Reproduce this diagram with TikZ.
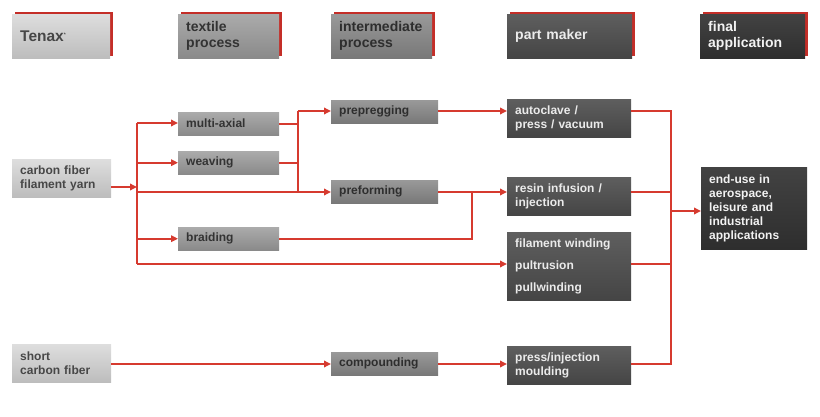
\documentclass[tikz,border=0pt]{standalone}
\usepackage{fontspec}
\setmainfont{Liberation Sans}
\usetikzlibrary{arrows.meta,positioning,shadows}

\definecolor{tnxred}{HTML}{D63A2F}
\definecolor{hdrred}{HTML}{C42E28}

\begin{document}
\begin{tikzpicture}[
    x=1pt, y=-1pt,
    box/.style={anchor=north west, inner xsep=8pt, inner ysep=0pt, align=left,
        font=\bfseries\fontsize{12}{14}\selectfont},
    head/.style={box, minimum height=44pt, font=\bfseries\fontsize{14}{16}\selectfont,
        drop shadow={shadow xshift=3pt, shadow yshift=2pt, fill=hdrred, opacity=1}},
    lite/.style={top color=black!13, bottom color=black!26, text=black!72},
    mid/.style={top color=black!33, bottom color=black!46, text=black!80},
    deep/.style={top color=black!40, bottom color=black!53, text=black!82},
    dark/.style={top color=black!63, bottom color=black!73, text=black!8},
    darker/.style={top color=black!74, bottom color=black!82, text=black!5},
    wire/.style={draw=tnxred, line width=2pt},
    link/.style={wire, -{Triangle[length=7pt,width=6.5pt]}}
]
\useasboundingbox (0,0) rectangle (820,417);

% column headers
\node[head, lite, text width=82pt, font=\bfseries\fontsize{15.5}{17}\selectfont] (tenax) at (12,14) {Tenax\textsuperscript{\tiny*}};
\node[head, mid, text width=85pt] (textile) at (178,14) {textile\\process};
\node[head, deep, text width=85pt] (inter) at (331,14) {intermediate\\process};
\node[head, dark, text width=109pt] (maker) at (507,14) {part maker};
\node[head, darker, text width=89pt] (final) at (700,14) {final\\application};

% raw material
\node[box, lite, text width=83pt, minimum height=38pt] (cfyarn) at (12,159) {carbon fiber\\filament yarn};
\node[box, lite, text width=83pt, minimum height=38pt] (shortcf) at (12,344) {short\\carbon fiber};

% textile process
\node[box, mid, text width=85pt, minimum height=23pt] (multiax) at (178,112) {multi-axial};
\node[box, mid, text width=85pt, minimum height=23pt] (weaving) at (178,151) {weaving};
\node[box, mid, text width=85pt, minimum height=23pt] (braiding) at (178,227) {braiding};

% intermediate process
\node[box, deep, text width=91pt, minimum height=23pt] (prepreg) at (331,100) {prepregging};
\node[box, deep, text width=91pt, minimum height=23pt] (preform) at (331,180) {preforming};
\node[box, deep, text width=91pt, minimum height=23pt] (compound) at (331,352) {compounding};

% part maker
\node[box, dark, text width=108pt, minimum height=38pt] (autoclave) at (507,99) {autoclave /\\press / vacuum};
\node[box, dark, text width=108pt, minimum height=38pt] (resin) at (507,177) {resin infusion /\\injection};
\node[box, dark, text width=108pt, minimum height=68pt] (winding) at (507,232) {filament winding\\[8pt]pultrusion\\[8pt]pullwinding};
\node[box, dark, text width=108pt, minimum height=38pt] (press) at (507,346) {press/injection\\moulding};

% final application
\node[box, darker, text width=90pt, minimum height=82pt] (enduse) at (701,167) {end-use in\\aerospace,\\leisure and\\industrial\\applications};

% junctions
\coordinate (split) at (137,187);
\coordinate (bustop) at (137,123);
\coordinate (busbot) at (137,264);
\coordinate (mergetop) at (298,111);
\coordinate (bjoin) at (472,192);
\coordinate (rtop) at (671,111);
\coordinate (rbot) at (671,364);
\coordinate (rmid) at (671,211);

% filament yarn routes
\draw[link] (cfyarn.east |- split) -- (split);
\draw[wire] (bustop) -- (busbot);
\draw[link] (bustop) -- (multiax.west |- bustop);
\draw[link] (bustop |- weaving) -- (weaving);
\draw[link] (bustop |- braiding) -- (braiding);
\draw[link] (bustop |- bjoin) -- (preform.west |- bjoin);
\draw[link] (busbot) -- (winding.west |- busbot);

\draw[wire] (multiax) -- (multiax -| mergetop);
\draw[wire] (weaving) -- (weaving -| mergetop);
\draw[wire] (mergetop) -- (mergetop |- bjoin);
\draw[link] (mergetop) -- (prepreg.west |- mergetop);

\draw[link] (prepreg.east |- mergetop) -- (autoclave.west |- mergetop);
\draw[link] (preform.east |- bjoin) -- (resin.west |- bjoin);
\draw[wire] (braiding) -| (bjoin);

% short fiber route
\draw[link] (shortcf.east |- rbot) -- (compound.west |- rbot);
\draw[link] (compound.east |- rbot) -- (press.west |- rbot);

% collect to final application
\draw[wire] (autoclave.east |- rtop) -- (rtop) -- (rbot) -- (press.east |- rbot);
\draw[wire] (resin.east |- bjoin) -- (rtop |- bjoin);
\draw[wire] (winding.east |- busbot) -- (rtop |- busbot);
\draw[link] (rmid) -- (enduse.west |- rmid);
\end{tikzpicture}
\end{document}
